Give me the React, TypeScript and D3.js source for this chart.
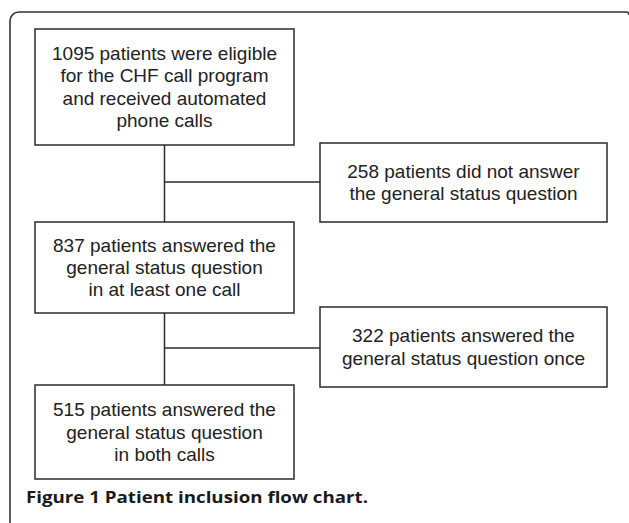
// Patient inclusion flow chart drawn with D3

import React, { useEffect, useRef } from 'react'
import * as d3 from 'd3'

// Box texts (main column, then the exclusion boxes on the right)
const mainSteps: string[][] = [
  ['1095 patients were eligible', 'for the CHF call program', 'and received automated', 'phone calls'],
  ['837 patients answered the', 'general status question', 'in at least one call'],
  ['515 patients answered the', 'general status question', 'in both calls'],
]
const sideSteps: string[][] = [
  ['258 patients did not answer', 'the general status question'],
  ['322 patients answered the', 'general status question once'],
]
const captionBold = 'Figure 1 Patient inclusion flow chart.'

// Layout (pixels)
const W = 629
const H = 523
const mainBox = { x0: 35, x1: 294 }
const mainRows = [
  { y0: 29, y1: 145 },
  { y0: 222, y1: 313 },
  { y0: 385, y1: 479 },
]
const sideBox = { x0: 320, x1: 607 }
const sideRows = [
  { y0: 143, y1: 222, branch: 182 },
  { y0: 307, y1: 387, branch: 348 },
]
const lineH = 22.3
const ink = '#2b2b2b'

const create = (el: SVGSVGElement) => {
  const svg = d3.select(el)
  svg.selectAll('*').remove()

  // Outer frame with rounded top-left corner
  const frame = d3.path()
  frame.moveTo(10, H + 2)
  frame.lineTo(10, 21)
  frame.arcTo(10, 12, 19, 12, 9)
  frame.lineTo(626, 12)
  frame.quadraticCurveTo(629, 12, 629, 15)
  svg
    .append('path')
    .attr('d', frame.toString())
    .attr('fill', 'none')
    .attr('stroke', '#333')
    .attr('stroke-width', 1.6)

  const cx = (mainBox.x0 + mainBox.x1) / 2

  // Connectors
  const g = svg.append('g').attr('stroke', ink).attr('stroke-width', 1.5).attr('fill', 'none')
  g.append('line')
    .attr('x1', cx)
    .attr('x2', cx)
    .attr('y1', mainRows[0].y1)
    .attr('y2', mainRows[mainRows.length - 1].y0)
  sideRows.forEach(r => {
    g.append('line').attr('x1', cx).attr('x2', sideBox.x0).attr('y1', r.branch).attr('y2', r.branch)
  })

  const drawBox = (x0: number, x1: number, y0: number, y1: number, lines: string[]) => {
    svg
      .append('rect')
      .attr('x', x0)
      .attr('y', y0)
      .attr('width', x1 - x0)
      .attr('height', y1 - y0)
      .attr('fill', 'white')
      .attr('stroke', ink)
      .attr('stroke-width', 1.5)
    const mid = (y0 + y1) / 2
    const first = mid - ((lines.length - 1) * lineH) / 2 + 6.5
    svg
      .append('g')
      .selectAll('text')
      .data(lines)
      .join('text')
      .attr('x', (x0 + x1) / 2)
      .attr('y', (_, i) => first + i * lineH)
      .attr('text-anchor', 'middle')
      .attr('font-family', '"Liberation Sans", Arial, Helvetica, sans-serif')
      .attr('font-size', 19)
      .attr('fill', '#222')
      .text(d => d)
  }

  mainSteps.forEach((lines, i) => drawBox(mainBox.x0, mainBox.x1, mainRows[i].y0, mainRows[i].y1, lines))
  sideSteps.forEach((lines, i) => drawBox(sideBox.x0, sideBox.x1, sideRows[i].y0, sideRows[i].y1, lines))

  // Caption
  svg
    .append('text')
    .attr('x', 26)
    .attr('y', 503)
    .attr('font-family', '"Open Sans", "Noto Sans", sans-serif')
    .attr('font-weight', 700)
    .attr('font-size', 16.5)
    .attr('textLength', 342)
    .attr('lengthAdjust', 'spacingAndGlyphs')
    .attr('fill', '#1a1a1a')
    .text(captionBold)
}

export default function App() {
  const ref = useRef<SVGSVGElement>(null)
  useEffect(() => {
    if (ref.current) create(ref.current)
  }, [])
  return (
    <svg
      ref={ref}
      width={W}
      height={H}
      style={{ position: 'absolute', left: 0, top: 0, background: 'white' }}
    />
  )
}
